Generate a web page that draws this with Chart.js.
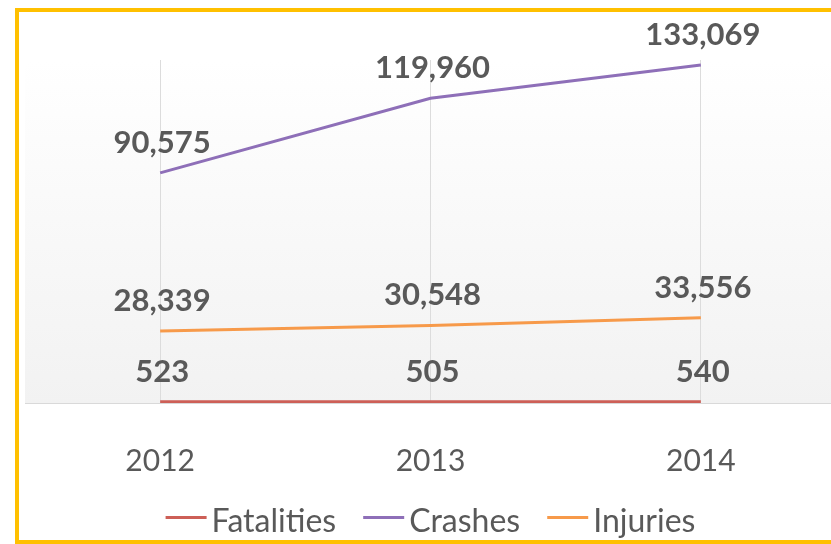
<!DOCTYPE html>
<html>
<head>
<meta charset="utf-8">
<script src="https://cdn.jsdelivr.net/npm/chart.js@4.4.1/dist/chart.umd.min.js"></script>
<style>
  html, body { margin: 0; padding: 0; width: 831px; height: 544px; overflow: hidden; background: #fff; }
  #frame { position: absolute; left: 15px; top: 8px; width: 900px; height: 536px; border: 4px solid #FFC000; box-sizing: border-box; background: #fff; }
  #wrap { position: absolute; left: 0; top: 0; width: 850px; height: 544px; }
</style>
</head>
<body>
<div id="frame"></div>
<div id="wrap"><canvas id="c" width="850" height="544"></canvas></div>
<script>
const years = ['2012', '2013', '2014'];
const fatalities = [523, 505, 540];
const crashes = [90575, 119960, 133069];
const injuries = [28339, 30548, 33556];

const seriesNames = ['Fatalities', 'Crashes', 'Injuries'];
const seriesColors = ['#CD5F57', '#8E6FB8', '#F79A4A'];

const FONT = 'Lato, "Open Sans", sans-serif';
const TEXT = '#595959';

const bgPlugin = {
  id: 'plotBg',
  beforeDraw(chart) {
    const { ctx, chartArea: a } = chart;
    const g = ctx.createLinearGradient(0, a.top, 0, a.bottom);
    g.addColorStop(0, '#ffffff');
    g.addColorStop(1, '#f2f2f2');
    ctx.save();
    ctx.fillStyle = g;
    ctx.fillRect(a.left, a.top, a.right - a.left, a.bottom - a.top);
    ctx.restore();
  }
};

const labelPlugin = {
  id: 'valueLabels',
  afterDatasetsDraw(chart) {
    const { ctx } = chart;
    ctx.save();
    ctx.font = 'bold 31px ' + FONT;
    ctx.fillStyle = TEXT;
    ctx.textAlign = 'center';
    ctx.textBaseline = 'middle';
    chart.data.datasets.forEach((ds, i) => {
      const meta = chart.getDatasetMeta(i);
      meta.data.forEach((pt, j) => {
        ctx.fillText(ds.data[j].toLocaleString('en-US'), pt.x + 2, pt.y - 30);
      });
    });
    ctx.restore();
  }
};

// Legend drawn with Excel-like spacing (line sample, small gap, text)
const legendPlugin = {
  id: 'lineLegend',
  afterDraw(chart) {
    const { ctx, chartArea: a } = chart;
    const sampleW = 41, gap = 5, itemGap = 27;
    ctx.save();
    ctx.font = '32px ' + FONT;
    const items = chart.data.datasets.map(ds => ({
      text: ds.label, color: ds.borderColor, w: ctx.measureText(ds.label).width
    }));
    const total = items.reduce((s, it) => s + sampleW + gap + it.w, 0) + itemGap * (items.length - 1);
    let x = (a.left + a.right) / 2 - total / 2;
    const baseY = 532;
    ctx.textAlign = 'left';
    ctx.textBaseline = 'alphabetic';
    items.forEach(it => {
      ctx.fillStyle = it.color;
      ctx.fillRect(x, 516, sampleW, 3);
      x += sampleW + gap;
      ctx.fillStyle = TEXT;
      ctx.fillText(it.text, x, baseY);
      x += it.w + itemGap;
    });
    ctx.restore();
  }
};

const seriesData = [fatalities, crashes, injuries];

new Chart(document.getElementById('c'), {
  type: 'line',
  data: {
    labels: years,
    datasets: seriesNames.map((name, i) => ({
      label: name,
      data: seriesData[i],
      borderColor: seriesColors[i],
      backgroundColor: seriesColors[i],
      borderWidth: 3,
      pointRadius: 0,
      pointHoverRadius: 0,
      tension: 0,
      fill: false
    }))
  },
  options: {
    responsive: false,
    animation: false,
    events: [],
    layout: { padding: { top: 60, left: 25, right: 14, bottom: 25 } },
    scales: {
      x: {
        offset: true,
        grid: { display: true, offset: false, color: '#dcdcdc', lineWidth: 1, drawTicks: false },
        border: { display: true, color: '#d9d9d9', width: 1 },
        ticks: { color: TEXT, font: { family: FONT, size: 30 }, padding: 40, maxRotation: 0 }
      },
      y: {
        display: false,
        min: 0,
        max: 135000
      }
    },
    plugins: {
      legend: { display: false },
      tooltip: { enabled: false }
    }
  },
  plugins: [bgPlugin, labelPlugin, legendPlugin]
});
</script>
</body>
</html>
